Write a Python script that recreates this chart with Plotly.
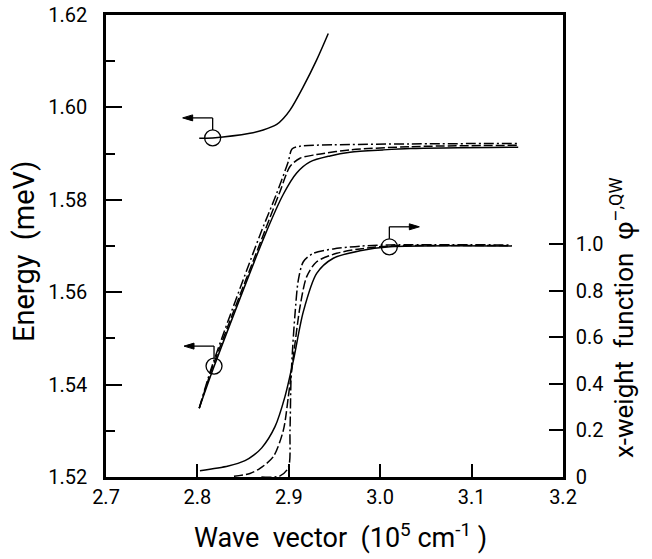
import plotly.graph_objects as go

# ---------------- data ----------------
# Upper polariton branch (energy, left axis)
k_upper = [2.802, 2.8167, 2.8575, 2.872, 2.8868, 2.894, 2.9013, 2.9159, 2.9305, 2.9432]
E_upper = [1.5933, 1.5934, 1.5944, 1.5951, 1.5963, 1.5976, 1.5994, 1.6045, 1.6103, 1.6160]

# Lower polariton branch, three variants (energy, left axis)
k_lower_solid = [2.802, 2.818, 2.874, 2.894, 2.9086, 2.9232, 2.9451, 2.967, 3.003, 3.033, 3.151]
E_lower_solid = [1.5349, 1.5438, 1.5724, 1.5812, 1.5858, 1.5882, 1.5895, 1.5903, 1.5908, 1.5911, 1.5914]

k_lower_dash = [2.802, 2.817, 2.8721, 2.8904, 2.9013, 2.9123, 2.9305, 2.967, 3.033, 3.151]
E_lower_dash = [1.5349, 1.5440, 1.5724, 1.5818, 1.5872, 1.5890, 1.5898, 1.5908, 1.5915, 1.5918]

k_lower_dashdot = [2.802, 2.816, 2.8685, 2.886, 2.8993, 2.9035, 2.9123, 2.9487, 3.033, 3.151]
E_lower_dashdot = [1.5349, 1.5440, 1.5724, 1.5810, 1.5882, 1.5910, 1.5916, 1.5919, 1.5921, 1.5922]

# x-weight function (right axis)
k_weight_solid = [2.8028, 2.8338, 2.8521, 2.862, 2.8704, 2.8849, 2.8958, 2.905, 2.9159, 2.9305, 2.9487, 2.9779, 3.0107, 3.1439]
w_weight_solid = [0.027, 0.047, 0.070, 0.095, 0.125, 0.216, 0.345, 0.50, 0.71, 0.874, 0.939, 0.971, 0.988, 0.991]

k_weight_dash = [2.84, 2.8575, 2.8685, 2.883, 2.894, 2.8995, 2.9032, 2.9068, 2.9123, 2.9196, 2.9305, 2.9524, 2.9779, 3.0107, 3.1439]
w_weight_dash = [0.003, 0.015, 0.037, 0.087, 0.20, 0.345, 0.459, 0.574, 0.731, 0.86, 0.924, 0.96, 0.979, 0.991, 0.993]

k_weight_dashdot = [2.87, 2.89, 2.8995, 2.9013, 2.9024, 2.9043, 2.9068, 2.9104, 2.9159, 2.9268, 2.9487, 2.9779, 3.0107, 3.1439]
w_weight_dashdot = [0.0, 0.004, 0.04, 0.2, 0.416, 0.56, 0.70, 0.845, 0.924, 0.96, 0.979, 0.991, 0.996, 0.996]

# circled reference points
k_circle_energy = [2.8167, 2.8182]
E_circle_energy = [1.5934, 1.5440]
k_circle_weight = [3.010]
w_circle_weight = [0.988]

# ticks
x_ticks = [2.7, 2.8, 2.9, 3.0, 3.1, 3.2]
x_ticklabels = ["2.7", "2.8", "2.9", "3.0", "3.1", "3.2"]
E_ticks = [1.52, 1.54, 1.56, 1.58, 1.60, 1.62]
E_ticklabels = ["1.52", "1.54", "1.56", "1.58", "1.60", "1.62"]
w_ticks = [0, 0.2, 0.4, 0.6, 0.8, 1.0]
w_ticklabels = ["0", "0.2", "0.4", "0.6", "0.8", "1.0"]

FONT = "Roboto, Liberation Sans, sans-serif"
LW = 1.5
DASH = "9px,3px"
DASHDOT = "10px,3px,2px,3px"

fig = go.Figure()

def add_line(x, y, dash, yaxis="y", smoothing=0.8):
    fig.add_trace(go.Scatter(
        x=x, y=y, mode="lines", yaxis=yaxis,
        line=dict(color="black", width=LW, dash=dash, shape="spline", smoothing=smoothing),
        showlegend=False, hoverinfo="skip"))

add_line(k_upper, E_upper, "solid", smoothing=1.0)
add_line(k_lower_solid, E_lower_solid, "solid")
add_line(k_lower_dash, E_lower_dash, DASH)
add_line(k_lower_dashdot, E_lower_dashdot, DASHDOT)
add_line(k_weight_solid, w_weight_solid, "solid", "y2")
add_line(k_weight_dash, w_weight_dash, DASH, "y2")
add_line(k_weight_dashdot, w_weight_dashdot, DASHDOT, "y2")

circle_marker = dict(symbol="circle-open", size=16, color="black", line=dict(width=1.3))
fig.add_trace(go.Scatter(x=k_circle_energy, y=E_circle_energy, mode="markers",
                         marker=circle_marker, showlegend=False, hoverinfo="skip"))
fig.add_trace(go.Scatter(x=k_circle_weight, y=w_circle_weight, mode="markers", yaxis="y2",
                         marker=circle_marker, showlegend=False, hoverinfo="skip"))

# elbow arrows (fixed pixel size, anchored at each circle)
shapes = []

def elbow_arrow(x, y, yref, d):
    common = dict(xref="x", yref=yref, xsizemode="pixel", ysizemode="pixel",
                  xanchor=x, yanchor=y)
    shapes.append(dict(type="line", x0=0, x1=0, y0=8, y1=20,
                       line=dict(color="black", width=1.3), **common))
    shapes.append(dict(type="line", x0=0, x1=22 * d, y0=20, y1=20,
                       line=dict(color="black", width=1.3), **common))
    shapes.append(dict(type="path",
                       path=f"M {30*d} 20 L {20*d} 23 L {20*d} 17 Z",
                       fillcolor="black", line=dict(color="black", width=1), **common))

for kx, ey in zip(k_circle_energy, E_circle_energy):
    elbow_arrow(kx, ey, "y", -1)
for kx, wy in zip(k_circle_weight, w_circle_weight):
    elbow_arrow(kx, wy, "y2", 1)

annotations = [
    dict(xref="paper", yref="paper", x=0, y=0.487, xshift=-82,
         text="Energy&nbsp;&nbsp;(meV)", textangle=-90, showarrow=False,
         font=dict(family=FONT, size=29, color="black"),
         xanchor="center", yanchor="middle"),
    dict(xref="paper", yref="paper", x=1, y=0.344, xshift=59,
         text="x-weight&nbsp;&nbsp;function&nbsp;&nbsp;φ<sup>–,QW</sup>",
         textangle=-90, showarrow=False,
         font=dict(family=FONT, size=26, color="black"),
         xanchor="center", yanchor="middle"),
    dict(xref="paper", yref="paper", x=0.514, y=0, yshift=-59,
         text="Wave&nbsp;&nbsp;vector&nbsp;&nbsp;(10<sup>5</sup>&nbsp;cm<sup>-1</sup>&nbsp;)",
         showarrow=False,
         font=dict(family=FONT, size=27, color="black"),
         xanchor="center", yanchor="middle"),
]

axis_common = dict(showgrid=False, zeroline=False, showline=True, linecolor="black",
                   linewidth=2.5, ticks="inside", tickcolor="black", tickwidth=1.5,
                   ticklabeloverflow="allow",
                   tickfont=dict(family=FONT, size=20, color="black"))

fig.update_layout(
    width=652, height=559,
    margin=dict(l=106, r=89, t=15, b=82, autoexpand=False),
    paper_bgcolor="white", plot_bgcolor="white",
    font=dict(family=FONT, color="black"),
    xaxis=dict(range=[2.7, 3.2], tickvals=x_ticks, ticktext=x_ticklabels,
               ticklen=13, mirror=True, ticklabelstandoff=0, **axis_common),
    yaxis=dict(range=[1.52, 1.62], tickvals=E_ticks, ticktext=E_ticklabels,
               ticklen=16, mirror=True, ticklabelstandoff=12,
               minor=dict(dtick=0.01, ticklen=9, ticks="inside", tickcolor="black", tickwidth=1.5),
               **axis_common),
    yaxis2=dict(range=[0, 1.983], tickvals=w_ticks, ticktext=w_ticklabels,
                ticklen=14, overlaying="y", side="right", ticklabelstandoff=6,
                **axis_common),
    shapes=shapes,
    annotations=annotations,
    showlegend=False,
)

# remove the default 8px page margin so the 652x559 figure fills the window exactly
fig.write_html("out.html", config={"displayModeBar": False},
               post_script="document.body.style.margin='0';")
